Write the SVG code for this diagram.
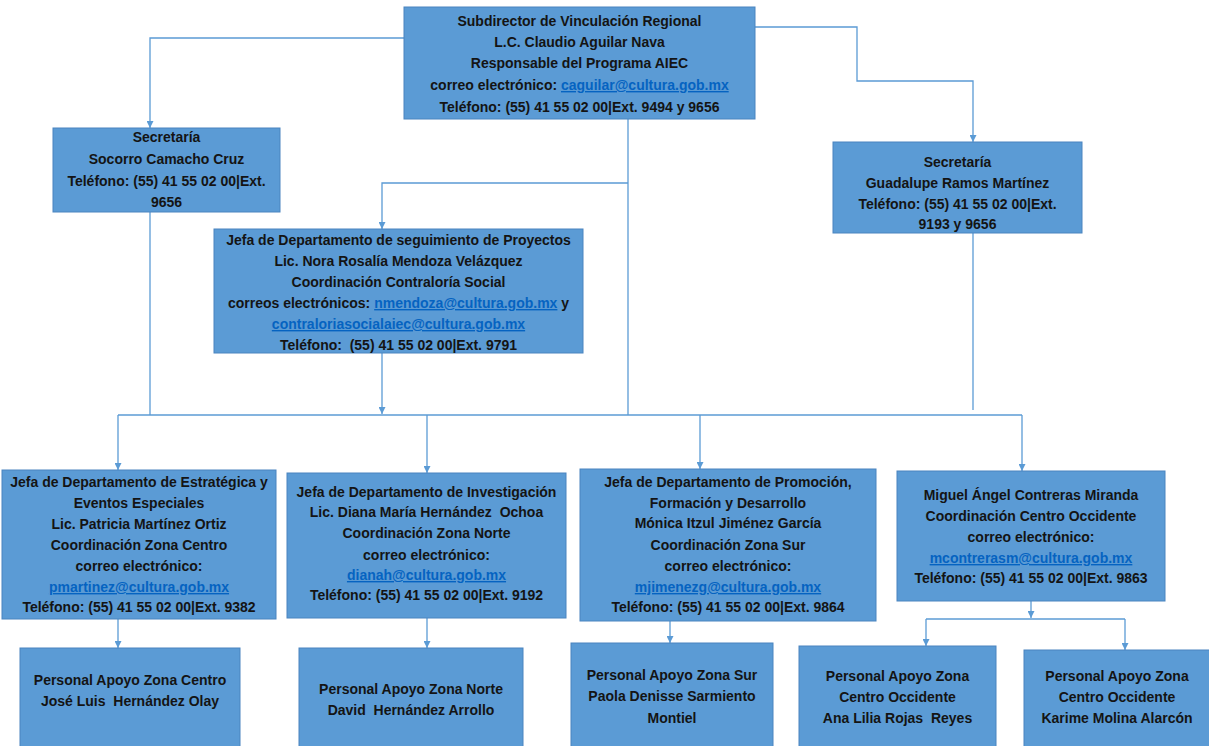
<svg xmlns="http://www.w3.org/2000/svg" width="1209" height="746" viewBox="0 0 1209 746">
<style>
.box{fill:#5B9BD5;stroke:#4A84BF;stroke-width:1}
.t{font-family:"Liberation Sans",Arial,sans-serif;font-weight:bold;font-size:14px;fill:#141414;text-anchor:middle;white-space:pre}
.lk{fill:#0563C1;text-decoration:underline}
.c{fill:none;stroke:#5B9BD5;stroke-width:1.3}
</style>
<defs>
<marker id="ar" viewBox="0 0 8 8" refX="8" refY="4" markerWidth="7" markerHeight="7" markerUnits="userSpaceOnUse" orient="auto">
<path d="M0,0 L8,4 L0,8 z" fill="#5B9BD5"/>
</marker>
</defs>
<rect width="1209" height="746" fill="#fff"/>
<g id="connectors">
<path class="c" d="M404,38 H150 V128" marker-end="url(#ar)"/>
<path class="c" d="M755,27 H857 V81 H973 V142" marker-end="url(#ar)"/>
<path class="c" d="M628,119 V415"/>
<path class="c" d="M628,183 H382 V229" marker-end="url(#ar)"/>
<path class="c" d="M150,212 V415"/>
<path class="c" d="M382,353 V414" marker-end="url(#ar)"/>
<path class="c" d="M973,233 V410"/>
<path class="c" d="M118,415 H1022"/>
<path class="c" d="M118,415 V470" marker-end="url(#ar)"/>
<path class="c" d="M427,415 V473" marker-end="url(#ar)"/>
<path class="c" d="M700,415 V469" marker-end="url(#ar)"/>
<path class="c" d="M1022,415 V471" marker-end="url(#ar)"/>
<path class="c" d="M118,619 V648" marker-end="url(#ar)"/>
<path class="c" d="M427,618 V648" marker-end="url(#ar)"/>
<path class="c" d="M670,621 V643" marker-end="url(#ar)"/>
<path class="c" d="M1031,601 V618" marker-end="url(#ar)"/>
<path class="c" d="M926,619 H1125"/>
<path class="c" d="M926,619 V646" marker-end="url(#ar)"/>
<path class="c" d="M1125,619 V650" marker-end="url(#ar)"/>
</g>
<g id="n-subdirector">
<rect class="box" x="404" y="7" width="351" height="112"/>
<text class="t" x="579.5" y="26">Subdirector de Vinculación Regional</text>
<text class="t" x="579.5" y="47">L.C. Claudio Aguilar Nava</text>
<text class="t" x="579.5" y="68">Responsable del Programa AIEC</text>
<text class="t" x="579.5" y="90">correo electrónico: <tspan class="lk">caguilar@cultura.gob.mx</tspan></text>
<text class="t" x="579.5" y="112">Teléfono: (55) 41 55 02 00|Ext. 9494 y 9656</text>
</g>
<g id="n-secretaria-1">
<rect class="box" x="53" y="128" width="227" height="84"/>
<text class="t" x="166.5" y="142">Secretaría</text>
<text class="t" x="166.5" y="164">Socorro Camacho Cruz</text>
<text class="t" x="166.5" y="186">Teléfono: (55) 41 55 02 00|Ext.</text>
<text class="t" x="166.5" y="207">9656</text>
</g>
<g id="n-secretaria-2">
<rect class="box" x="833" y="142" width="249" height="91"/>
<text class="t" x="957.5" y="167">Secretaría</text>
<text class="t" x="957.5" y="188">Guadalupe Ramos Martínez</text>
<text class="t" x="957.5" y="209">Teléfono: (55) 41 55 02 00|Ext.</text>
<text class="t" x="957.5" y="229">9193 y 9656</text>
</g>
<g id="n-seguimiento">
<rect class="box" x="214" y="229" width="369" height="124"/>
<text class="t" x="398.5" y="245">Jefa de Departamento de seguimiento de Proyectos</text>
<text class="t" x="398.5" y="266">Lic. Nora Rosalía Mendoza Velázquez</text>
<text class="t" x="398.5" y="287">Coordinación Contraloría Social</text>
<text class="t" x="398.5" y="308">correos electrónicos: <tspan class="lk">nmendoza@cultura.gob.mx</tspan> y</text>
<text class="t" x="398.5" y="329"><tspan class="lk">contraloriasocialaiec@cultura.gob.mx</tspan></text>
<text class="t" x="398.5" y="350">Teléfono:  (55) 41 55 02 00|Ext. 9791</text>
</g>
<g id="n-estrategica">
<rect class="box" x="2" y="470" width="274" height="149"/>
<text class="t" x="139" y="487">Jefa de Departamento de Estratégica y</text>
<text class="t" x="139" y="508">Eventos Especiales</text>
<text class="t" x="139" y="529">Lic. Patricia Martínez Ortiz</text>
<text class="t" x="139" y="550">Coordinación Zona Centro</text>
<text class="t" x="139" y="571">correo electrónico:</text>
<text class="t" x="139" y="592"><tspan class="lk">pmartinez@cultura.gob.mx</tspan></text>
<text class="t" x="139" y="612">Teléfono: (55) 41 55 02 00|Ext. 9382</text>
</g>
<g id="n-investigacion">
<rect class="box" x="287" y="473" width="279" height="145"/>
<text class="t" x="426.5" y="497">Jefa de Departamento de Investigación</text>
<text class="t" x="426.5" y="517">Lic. Diana María Hernández  Ochoa</text>
<text class="t" x="426.5" y="538">Coordinación Zona Norte</text>
<text class="t" x="426.5" y="560">correo electrónico:</text>
<text class="t" x="426.5" y="580"><tspan class="lk">dianah@cultura.gob.mx</tspan></text>
<text class="t" x="426.5" y="600">Teléfono: (55) 41 55 02 00|Ext. 9192</text>
</g>
<g id="n-promocion">
<rect class="box" x="580" y="469" width="296" height="152"/>
<text class="t" x="728" y="487">Jefa de Departamento de Promoción,</text>
<text class="t" x="728" y="508">Formación y Desarrollo</text>
<text class="t" x="728" y="528">Mónica Itzul Jiménez García</text>
<text class="t" x="728" y="550">Coordinación Zona Sur</text>
<text class="t" x="728" y="571">correo electrónico:</text>
<text class="t" x="728" y="592"><tspan class="lk">mjimenezg@cultura.gob.mx</tspan></text>
<text class="t" x="728" y="612">Teléfono: (55) 41 55 02 00|Ext. 9864</text>
</g>
<g id="n-centro-occidente">
<rect class="box" x="897" y="471" width="268" height="130"/>
<text class="t" x="1031" y="500">Miguel Ángel Contreras Miranda</text>
<text class="t" x="1031" y="521">Coordinación Centro Occidente</text>
<text class="t" x="1031" y="542">correo electrónico:</text>
<text class="t" x="1031" y="563"><tspan class="lk">mcontrerasm@cultura.gob.mx</tspan></text>
<text class="t" x="1031" y="583">Teléfono: (55) 41 55 02 00|Ext. 9863</text>
</g>
<g id="n-apoyo-centro">
<rect class="box" x="20" y="648" width="220" height="104"/>
<text class="t" x="130" y="685">Personal Apoyo Zona Centro</text>
<text class="t" x="130" y="706">José Luis  Hernández Olay</text>
</g>
<g id="n-apoyo-norte">
<rect class="box" x="299" y="648" width="224" height="104"/>
<text class="t" x="411" y="694">Personal Apoyo Zona Norte</text>
<text class="t" x="411" y="715">David  Hernández Arrollo</text>
</g>
<g id="n-apoyo-sur">
<rect class="box" x="571" y="643" width="202" height="109"/>
<text class="t" x="672" y="680">Personal Apoyo Zona Sur</text>
<text class="t" x="672" y="701">Paola Denisse Sarmiento</text>
<text class="t" x="672" y="723">Montiel</text>
</g>
<g id="n-apoyo-co-1">
<rect class="box" x="799" y="646" width="197" height="106"/>
<text class="t" x="897.5" y="681">Personal Apoyo Zona</text>
<text class="t" x="897.5" y="702">Centro Occidente</text>
<text class="t" x="897.5" y="723">Ana Lilia Rojas  Reyes</text>
</g>
<g id="n-apoyo-co-2">
<rect class="box" x="1024" y="650" width="190" height="102"/>
<text class="t" x="1117" y="681">Personal Apoyo Zona</text>
<text class="t" x="1117" y="702">Centro Occidente</text>
<text class="t" x="1117" y="723">Karime Molina Alarcón</text>
</g>
</svg>
